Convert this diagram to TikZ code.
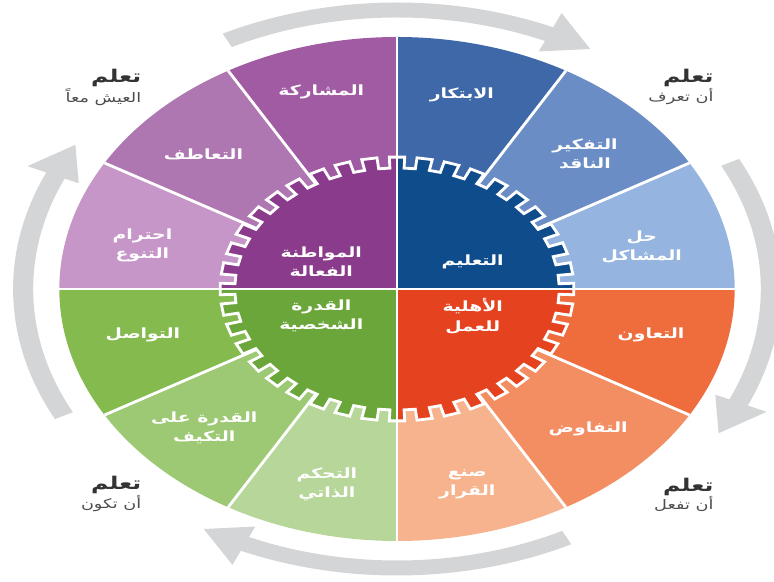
\documentclass[tikz,border=0pt]{standalone}
\usepackage{fontspec}
\newfontfamily\arabicfont[Script=Arabic]{DejaVu Sans}
\TeXXeTstate=1
\newcommand{\ar}[1]{{\arabicfont\beginR #1\endR}}

\definecolor{blueD}{HTML}{0F4C8C}
\definecolor{blueA}{HTML}{3E68A8}
\definecolor{blueB}{HTML}{6B8DC5}
\definecolor{blueC}{HTML}{95B4E0}
\definecolor{redD}{HTML}{E5431F}
\definecolor{redA}{HTML}{EF6C3D}
\definecolor{redB}{HTML}{F38E63}
\definecolor{redC}{HTML}{F6B38D}
\definecolor{greenD}{HTML}{6AA63A}
\definecolor{greenA}{HTML}{85BA4F}
\definecolor{greenB}{HTML}{9DC874}
\definecolor{greenC}{HTML}{B7D69A}
\definecolor{purpleD}{HTML}{8A3B8B}
\definecolor{purpleA}{HTML}{A05BA3}
\definecolor{purpleB}{HTML}{AF77B1}
\definecolor{purpleC}{HTML}{C596C7}
\definecolor{arrowgray}{HTML}{D4D5D6}

\tikzset{
  seglabel/.style={text=white, align=center, transform shape,
    font=\arabicfont\bfseries\fontsize{8}{11}\selectfont},
  divider/.style={white, line width=1.6pt},
  learnhead/.style={anchor=east, inner sep=0pt, transform shape, text=black!80,
    font=\arabicfont\bfseries\fontsize{10}{12}\selectfont},
  learnsub/.style={anchor=east, inner sep=0pt, transform shape, text=black!70,
    font=\arabicfont\fontsize{7.5}{9}\selectfont},
}

\begin{document}
\begin{tikzpicture}
\useasboundingbox (0,0) rectangle (15.48,11.64);
\begin{scope}[shift={(7.94,5.86)}, xscale=1.34]
  % outer ring sectors
  \foreach \a/\c in {60/blueA,30/blueB,0/blueC,
                     90/purpleA,120/purpleB,150/purpleC,
                     180/greenA,210/greenB,240/greenC,
                     330/redA,300/redB,270/redC}
    \fill[\c] (0,0) -- (\a:5.04) arc[start angle=\a, delta angle=30, radius=5.04] -- cycle;
  \foreach \a in {30,60,120,150,210,240,300,330}
    \draw[divider] (\a:2.3) -- (\a:5.04);

  % gear, one colour per quadrant
  \foreach \q/\c in {0/blueD,90/purpleD,180/greenD,270/redD} {
    \begin{scope}
      \clip (0,0) -- (\q:3) -- (\q+45:4.5) -- (\q+90:3) -- cycle;
      \fill[\c] (-2.5:2.42) \foreach \k in {0,...,39} {
        -- ({9*\k-2.5}:2.64) -- ({9*\k+2.5}:2.64)
        -- ({9*\k+2.5}:2.42) -- ({9*\k+6.5}:2.42)} -- cycle;
    \end{scope}
  }
  \draw[divider] (-2.5:2.42) \foreach \k in {0,...,39} {
    -- ({9*\k-2.5}:2.64) -- ({9*\k+2.5}:2.64)
    -- ({9*\k+2.5}:2.42) -- ({9*\k+6.5}:2.42)} -- cycle;
  \draw[divider] (-5.04,0) -- (5.04,0);
  \draw[divider] (0,-5.04) -- (0,5.04);

  % grey arrows round the wheel
  \foreach \t [evaluate=\t as \h using \t-51, evaluate=\t as \p using \t-58] in {117,27,-63,-153}
    \fill[arrowgray] (\t:5.43) arc[start angle=\t, end angle=\h, radius=5.43]
      -- (\h:5.2) -- (\p:5.6) -- (\h:6.04) -- (\h:5.73)
      arc[start angle=\h, end angle=\t, radius=5.73] -- cycle;

  % labels
  \node[seglabel] (teaching) at (1.13,0.54) {\ar{التعليم}};
  \node[seglabel] (citizen) at (-1.13,0.54) {\ar{المواطنة}\\\ar{الفعالة}};
  \node[seglabel] (personal) at (-1.13,-0.54) {\ar{القدرة}\\\ar{الشخصية}};
  \node[seglabel] (work) at (1.13,-0.54) {\ar{الأهلية}\\\ar{للعمل}};

  \node[seglabel] (innov) at (76:4.0) {\ar{الابتكار}};
  \node[seglabel] (critical) at (44:3.9) {\ar{التفكير}\\\ar{الناقد}};
  \node[seglabel] (problems) at (13:3.75) {\ar{حل}\\\ar{المشاكل}};
  \node[seglabel] (coop) at (-13.5:3.9) {\ar{التعاون}};
  \node[seglabel] (negot) at (-44.5:4.0) {\ar{التفاوض}};
  \node[seglabel] (decide) at (-75:4.05) {\ar{صنع}\\\ar{القرار}};
  \node[seglabel] (selfctl) at (255:4.05) {\ar{التحكم}\\\ar{الذاتي}};
  \node[seglabel] (adapt) at (224:4.0) {\ar{القدرة على}\\\ar{التكيف}};
  \node[seglabel] (comm) at (193.5:3.9) {\ar{التواصل}};
  \node[seglabel] (diversity) at (167:3.9) {\ar{احترام}\\\ar{التنوع}};
  \node[seglabel] (empathy) at (137:3.95) {\ar{التعاطف}};
  \node[seglabel] (share) at (106:4.1) {\ar{المشاركة}};

  \node[learnhead] (knowhead) at (4.73,4.22) {\ar{تعلم}};
  \node[learnsub] (knowsub) at (4.73,3.84) {\ar{أن تعرف}};
  \node[learnhead] (livehead) at (-3.81,4.22) {\ar{تعلم}};
  \node[learnsub] (livesub) at (-3.81,3.84) {\ar{العيش معاً}};
  \node[learnhead] (dohead) at (4.73,-3.96) {\ar{تعلم}};
  \node[learnsub] (dosub) at (4.73,-4.3) {\ar{أن تفعل}};
  \node[learnhead] (behead) at (-3.81,-3.92) {\ar{تعلم}};
  \node[learnsub] (besub) at (-3.81,-4.3) {\ar{أن تكون}};
\end{scope}
\end{tikzpicture}
\end{document}
